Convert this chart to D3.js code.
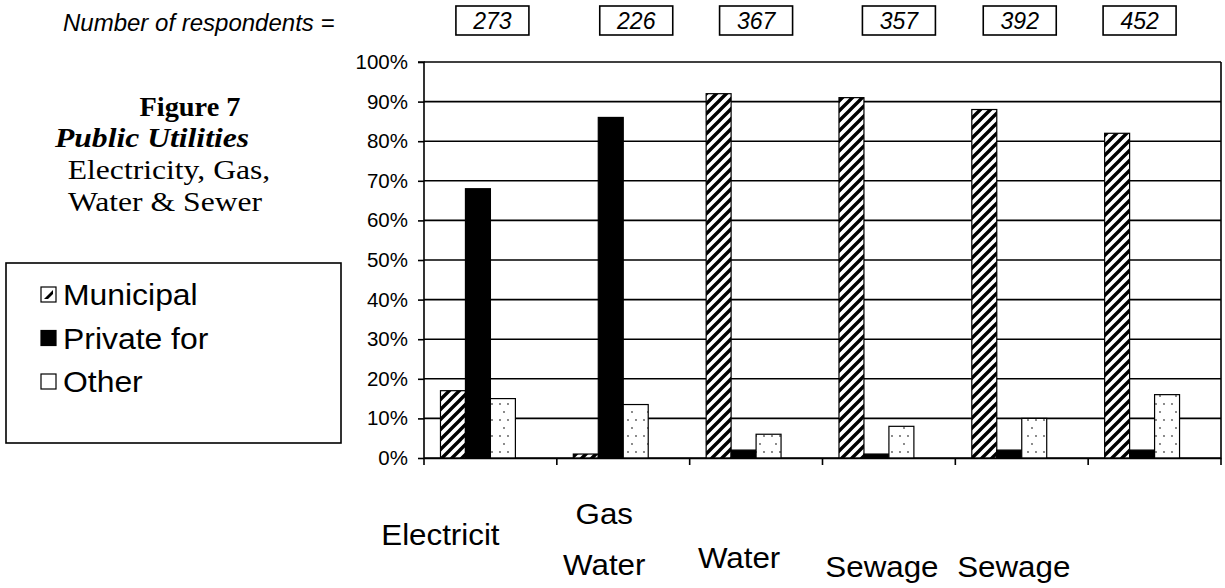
<!DOCTYPE html>
<html>
<head>
<meta charset="utf-8">
<script src="https://cdn.jsdelivr.net/npm/d3@7"></script>
<style>
  html, body { margin: 0; padding: 0; background: #fff; }
  svg { display: block; }
</style>
</head>
<body>
<svg id="chart" width="1225" height="588"></svg>
<script>
// ---------- data ----------
const categories = ["Electricit", "Gas\nWater", "Water", "Sewage", "Sewage", ""];
const respondents = [273, 226, 367, 357, 392, 452];
const seriesNames = ["Municipal", "Private for", "Other"];
const municipal = [17, 1, 92, 91, 88, 82];
const privateFor = [68, 86, 2, 1, 2, 2];
const other = [15, 13.5, 6, 8, 10, 16];
const yTicks = [0, 10, 20, 30, 40, 50, 60, 70, 80, 90, 100];
const titleLines = ["Figure 7", "Public Utilities", "Electricity, Gas,", "Water & Sewer"];

// ---------- layout ----------
const svg = d3.select("#chart");
const plot = { left: 424, right: 1221, top: 62, bottom: 458 };
const sans = "'Liberation Sans', Arial, sans-serif";
const serif = "'Liberation Serif', 'Times New Roman', serif";

const x0 = d3.scaleBand().domain(d3.range(categories.length)).range([plot.left, plot.right]);
// Excel-style cluster with four slots (last slot empty)
const x1 = d3.scaleBand().domain([0, 1, 2, 3]).range([0, x0.bandwidth()]).paddingOuter(0.66);
const y = d3.scaleLinear().domain([0, 100]).range([plot.bottom, plot.top]);

// stretched text helper (the original's text is slightly wide)
function stext(sel, x, yy, sx) {
  return sel.append("text").attr("transform", `translate(${x},${yy}) scale(${sx},1)`);
}

// ---------- patterns ----------
const defs = svg.append("defs");
const stripe = defs.append("pattern").attr("id", "stripes")
  .attr("patternUnits", "userSpaceOnUse").attr("width", 10).attr("height", 10);
stripe.append("rect").attr("width", 10).attr("height", 10).attr("fill", "#fff");
stripe.append("path").attr("d", "M-2,12 L12,-2 M-7,7 L7,-7 M3,17 L17,3")
  .attr("stroke", "#000").attr("stroke-width", 3.4);

const dots = defs.append("pattern").attr("id", "dots")
  .attr("patternUnits", "userSpaceOnUse").attr("width", 16).attr("height", 16);
dots.append("rect").attr("width", 16).attr("height", 16).attr("fill", "#fff");
[[4, 4], [12, 4], [8, 12]].forEach(([cx, cy]) =>
  dots.append("circle").attr("cx", cx).attr("cy", cy).attr("r", 0.9).attr("fill", "#555"));

const fills = ["url(#stripes)", "#000", "url(#dots)"];

// ---------- gridlines ----------
svg.append("g").selectAll("line").data(yTicks).join("line")
  .attr("x1", plot.left).attr("x2", plot.right)
  .attr("y1", d => y(d)).attr("y2", d => y(d))
  .attr("stroke", "#000").attr("stroke-width", 1.6);

// right border of plot area
svg.append("line").attr("x1", plot.right).attr("x2", plot.right)
  .attr("y1", plot.top).attr("y2", plot.bottom).attr("stroke", "#000").attr("stroke-width", 1.6);

// ---------- bars ----------
const series = [municipal, privateFor, other];
const gBars = svg.append("g");
series.forEach((vals, si) => {
  gBars.append("g").selectAll("rect").data(vals).join("rect")
    .attr("x", (d, i) => x0(i) + x1(si))
    .attr("width", x1.bandwidth())
    .attr("y", d => y(d))
    .attr("height", d => y(0) - y(d))
    .attr("fill", fills[si])
    .attr("stroke", "#000").attr("stroke-width", 1.2);
});

// ---------- axes ----------
const yAxis = d3.axisLeft(y).tickValues(yTicks).tickFormat(d => d + "%").tickSize(6).tickPadding(10);
const gy = svg.append("g").attr("transform", `translate(${plot.left},0)`).call(yAxis);
gy.select(".domain").attr("stroke", "#000").attr("stroke-width", 1.6).attr("d", `M-6,${plot.top}H0V${plot.bottom}`);
gy.selectAll(".tick line").attr("stroke", "#000").attr("stroke-width", 1.6);
gy.selectAll(".tick text").attr("font-family", sans).attr("font-size", 20.5).attr("fill", "#000");

const xAxis = d3.axisBottom(x0).tickValues([]).tickSizeOuter(0);
const gx = svg.append("g").attr("transform", `translate(0,${plot.bottom})`).call(xAxis);
gx.select(".domain").attr("stroke", "#000").attr("stroke-width", 1.6);
const boundaries = d3.range(categories.length + 1).map(i => i < categories.length ? x0(i) : plot.right);
gx.selectAll(".btick").data(boundaries).join("line").attr("class", "btick")
  .attr("x1", d => d).attr("x2", d => d).attr("y1", 0).attr("y2", 7)
  .attr("stroke", "#000").attr("stroke-width", 1.6);

// category labels (wrapped, as in the original)
const labelShift = [-50, -19, -17, -7, -8, 0];
const labelBase = [545, 524, 568, 577, 577, 577];
categories.forEach((c, i) => {
  const lines = c.split("\n").filter(s => s.length);
  lines.forEach((ln, li) => {
    stext(svg, x0(i) + x0.bandwidth() / 2 + labelShift[i], labelBase[i] + li * 51, 1.08)
      .attr("text-anchor", "middle")
      .attr("font-family", sans).attr("font-size", 29).attr("fill", "#000")
      .text(ln);
  });
});

// ---------- respondents row ----------
svg.append("text").attr("x", 63).attr("y", 31)
  .attr("font-family", sans).attr("font-style", "italic").attr("font-size", 24).attr("fill", "#000")
  .text("Number of respondents =");
const boxShift = [2, 13, 0, 10, -2, -15];
const gBox = svg.append("g").selectAll("g").data(respondents).join("g")
  .attr("transform", (d, i) => `translate(${x0(i) + x0.bandwidth() / 2 + boxShift[i]},0)`);
gBox.append("rect").attr("x", -36.5).attr("y", 6).attr("width", 73).attr("height", 29)
  .attr("fill", "#fff").attr("stroke", "#000").attr("stroke-width", 1.6);
gBox.append("text").attr("x", 0).attr("y", 29).attr("text-anchor", "middle")
  .attr("font-family", sans).attr("font-style", "italic").attr("font-size", 23).attr("fill", "#000")
  .text(d => d);

// ---------- title block ----------
const titleStyles = [
  { y: 116, w: "bold", s: "normal", size: 27, x: 190 },
  { y: 147, w: "bold", s: "italic", size: 28, x: 152 },
  { y: 179, w: "normal", s: "normal", size: 28, x: 169 },
  { y: 211, w: "normal", s: "normal", size: 28, x: 165 }
];
titleLines.forEach((t, i) => {
  const st = titleStyles[i];
  stext(svg, st.x, st.y, i === 0 ? 1.05 : 1.13).attr("text-anchor", "middle")
    .attr("font-family", serif).attr("font-weight", st.w).attr("font-style", st.s)
    .attr("font-size", st.size).attr("fill", "#000").text(t);
});

// ---------- legend ----------
const lg = svg.append("g");
lg.append("rect").attr("x", 6).attr("y", 263).attr("width", 335).attr("height", 180)
  .attr("fill", "#fff").attr("stroke", "#000").attr("stroke-width", 1.6);
const legendY = d3.scalePoint().domain(seriesNames).range([294, 381]);
const items = lg.selectAll("g.item").data(seriesNames).join("g").attr("class", "item")
  .attr("transform", d => `translate(0,${legendY(d)})`);
items.append("rect").attr("x", 41).attr("y", -7).attr("width", 15).attr("height", 15)
  .attr("fill", (d, i) => fills[i] === "#000" ? "#000" : "#fff")
  .attr("stroke", "#000").attr("stroke-width", 1.2);
// municipal key shows a single diagonal piece of the stripe pattern
items.filter((d, i) => i === 0).append("path")
  .attr("d", "M44,5 L53,-4 L53,0 L48,5 Z").attr("fill", "#000");
items.each(function (d) {
  stext(d3.select(this), 63, 11, 1.1)
    .attr("font-family", sans).attr("font-size", 29).attr("fill", "#000")
    .text(d);
});
</script>
</body>
</html>
